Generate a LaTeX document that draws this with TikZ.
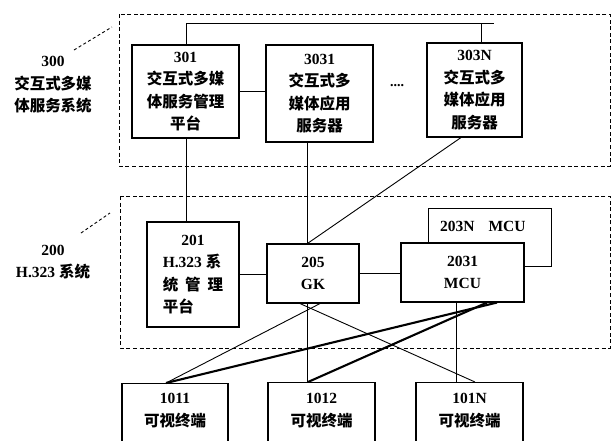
\documentclass[tikz,border=0pt]{standalone}
\usepackage{fontspec}
\setmainfont{Liberation Serif}
\newfontfamily\cjk{Noto Sans CJK SC}
\newcommand{\zh}[1]{{\cjk\bfseries #1}}
\usetikzlibrary{calc}
\tikzset{
  box/.style={draw, line width=1.1pt, fill=white, align=center, inner sep=0pt,
    font=\fontsize{15.5}{22.5}\selectfont\bfseries},
  grp/.style={draw, line width=0.9pt, dash pattern=on 4pt off 2.6pt},
  lead/.style={line width=0.9pt, dash pattern=on 3pt off 2.5pt},
  conn/.style={line width=0.9pt},
  thick conn/.style={line width=2.1pt},
  lbl/.style={align=center, inner sep=0pt, font=\fontsize{15.5}{22.5}\selectfont\bfseries}
}
\begin{document}
\begin{tikzpicture}[x=1pt,y=-1pt]
\useasboundingbox (0,0) rectangle (611,440);
\clip (0,0) rectangle (611,440);
% group boxes
\draw[grp] (119,14) rectangle (610,166);
\draw[grp] (120,196) rectangle (610,348);
% group labels
\node[lbl] (l300) at (53,85) {300\\\zh{交互式多媒}\\\zh{体服务系统}};
\node[lbl] (l200) at (53,262) {200\\H.323 \zh{系统}};
\coordinate (a300) at (74,50);
\coordinate (b300) at (112,27);
\coordinate (a200) at (81,233);
\coordinate (b200) at (110,213);
\draw[lead] (a300) -- (b300);
\draw[lead] (a200) -- (b200);
% 300 boxes
\node[box, minimum width=107pt, minimum height=93pt] (p301) at (185.5,91.5)
  {301\\\zh{交互式多媒}\\\zh{体服务管理}\\\zh{平台}};
\node[box, minimum width=107pt, minimum height=97pt] (p3031) at (319.5,93.5)
  {3031\\\zh{交互式多}\\\zh{媒体应用}\\\zh{服务器}};
\node[box, minimum width=95pt, minimum height=94pt] (p303N) at (474.5,90)
  {303N\\\zh{交互式多}\\\zh{媒体应用}\\\zh{服务器}};
\node[font=\bfseries\fontsize{14}{14}\selectfont] (dots) at (397,86) {....};
% bus
\coordinate (busL) at (186,23);
\coordinate (busR) at (494,23);
\coordinate (n303) at ($(p303N.north)+(6.5,0)$);
\draw[conn] (p301.north -| busL) -- (busL) -- (busR);
\draw[conn] (n303) -- (n303 |- busR);
\draw[conn] (p301.east) -- (p301.east -| p3031.west);
% 200 boxes
\node[box, minimum width=123pt, minimum height=58pt, anchor=north west] (m203N) at (428,208) {};
\node[font=\fontsize{15.5}{15.5}\selectfont\bfseries, anchor=west, inner sep=0pt] (t203N) at (440,226) {203N\hspace{0.9em}MCU};
\node[box, minimum width=92pt, minimum height=105pt] (p201) at (193,274.5)
  {\begin{tabular}{@{}l@{}}\multicolumn{1}{@{}c@{}}{201}\\H.323 \zh{系}\\\zh{统\hspace{0.45em}管\hspace{0.45em}理}\\\zh{平台}\end{tabular}};
\node[box, minimum width=92pt, minimum height=59pt] (gk) at (313,273.5) {205\\GK};
\node[box, minimum width=123pt, minimum height=59pt] (m2031) at (462.5,272.5) {2031\\MCU};
% terminals
\node[box, minimum width=106pt, minimum height=68pt, anchor=north] (t1011) at (175,383) {};
\node[box, minimum width=107pt, minimum height=68pt, anchor=north] (t1012) at (321.5,382) {};
\node[box, minimum width=107pt, minimum height=68pt, anchor=north] (t101N) at (469.5,382) {};
\node[lbl] (x1011) at (175,410.5) {1011\\\zh{可视终端}};
\node[lbl] (x1012) at (321.5,410.5) {1012\\\zh{可视终端}};
\node[lbl] (x101N) at (469.5,410.5) {101N\\\zh{可视终端}};
% connectors
\coordinate (gkx) at (307.5,0);
\coordinate (mx) at (456,0);
\draw[conn] (p301.south -| busL) -- (p201.north -| busL);
\draw[conn] (p3031.south -| gkx) -- (gk.north -| gkx);
\coordinate (s303) at ($(p303N.south)+(-13.5,0)$);
\draw[conn] (s303) -- (gk.north -| gkx);
\draw[conn] (p201.east) -- (p201.east -| gk.west);
\draw[conn] (gk.east) -- (gk.east -| m2031.west);
\draw[conn] (gk.south -| gkx) -- (t1012.north -| gkx);
\draw[conn] (m2031.south -| mx) -- (t101N.north -| mx);
\coordinate (c1011) at ($(t1011.north)+(-9,0)$);
\coordinate (c1012) at ($(t1012.north)+(-13.5,0)$);
\coordinate (c101N) at ($(t101N.north)+(5.5,0)$);
\coordinate (g1) at ($(gk.south)+(7,0)$);
\coordinate (g2) at ($(gk.south)+(-13,0)$);
\coordinate (m1) at ($(m2031.south)+(34.5,0)$);
\coordinate (m2) at ($(m2031.south)+(24.5,0)$);
\draw[conn] (c1011) -- (g1);
\draw[conn] (g2) -- (c101N);
\draw[thick conn] (c1011) -- (m1);
\draw[thick conn] (c1012) -- (m2);
\end{tikzpicture}
\end{document}
